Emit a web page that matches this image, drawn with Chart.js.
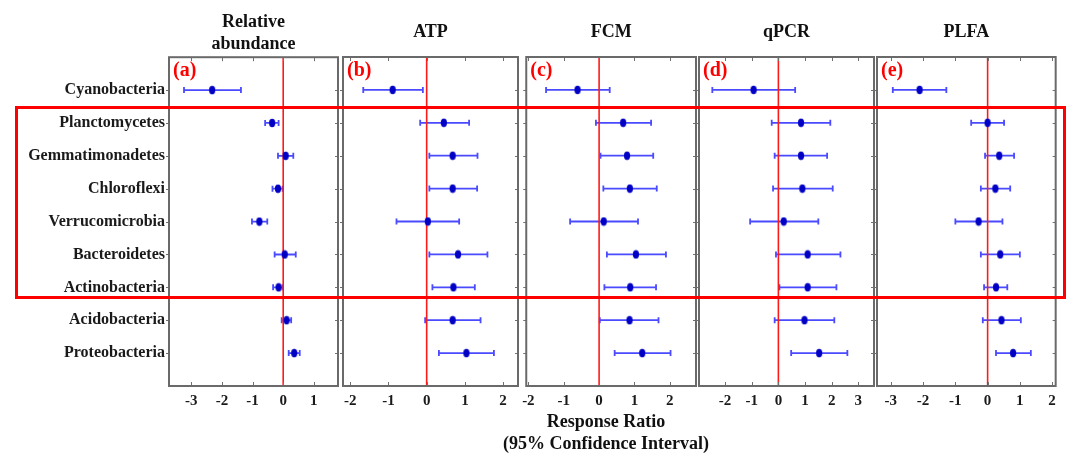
<!DOCTYPE html>
<html>
<head>
<meta charset="utf-8">
<script src="https://cdn.jsdelivr.net/npm/chart.js@4.4.1/dist/chart.umd.min.js"></script>
<style>
  body { margin: 0; background: #fff; width: 1072px; height: 453px; position: relative; overflow: hidden; }
  .panel { position: absolute; top: 0; height: 420px; }
  #box { position: absolute; left: 15px; top: 106px; width: 1051px; height: 193px;
         border: 3px solid #ff0000; box-sizing: border-box; pointer-events: none; }
  #xtitle { position: absolute; left: 406px; width: 400px; top: 410px; text-align: center;
            font: bold 18px "Liberation Serif", serif; line-height: 22px; color: #111; }
</style>
</head>
<body>
<div class="panel" id="wa" style="left:0px;width:344px"><canvas id="ca"></canvas></div>
<div class="panel" id="wb" style="left:337px;width:187px"><canvas id="cb"></canvas></div>
<div class="panel" id="wc" style="left:516px;width:186px"><canvas id="cc"></canvas></div>
<div class="panel" id="wd" style="left:693px;width:187px"><canvas id="cd"></canvas></div>
<div class="panel" id="we" style="left:871px;width:191px"><canvas id="ce"></canvas></div>
<div id="box"></div>
<div id="xtitle">Response Ratio<br>(95% Confidence Interval)</div>
<script>
// ---------------- Data ----------------
const categories = ["Cyanobacteria", "Planctomycetes", "Gemmatimonadetes", "Chloroflexi",
  "Verrucomicrobia", "Bacteroidetes", "Actinobacteria", "Acidobacteria", "Proteobacteria"];

const relMean = [-2.32, -0.36, 0.08, -0.17, -0.78, 0.05, -0.15, 0.11, 0.36];
const relLow  = [-3.24, -0.59, -0.17, -0.35, -1.02, -0.28, -0.33, -0.05, 0.18];
const relHigh = [-1.38, -0.15, 0.33, -0.02, -0.52, 0.41, -0.02, 0.26, 0.54];

const atpMean = [-0.89, 0.45, 0.68, 0.68, 0.03, 0.82, 0.70, 0.68, 1.04];
const atpLow  = [-1.66, -0.17, 0.07, 0.07, -0.79, 0.07, 0.15, -0.04, 0.32];
const atpHigh = [-0.10, 1.11, 1.33, 1.32, 0.85, 1.59, 1.26, 1.41, 1.76];

const fcmMean = [-0.61, 0.68, 0.79, 0.87, 0.13, 1.04, 0.88, 0.86, 1.22];
const fcmLow  = [-1.50, -0.09, 0.04, 0.12, -0.82, 0.22, 0.15, 0.02, 0.44];
const fcmHigh = [0.30, 1.47, 1.53, 1.63, 1.10, 1.89, 1.61, 1.68, 2.02];

const qpcrMean = [-0.93, 0.85, 0.85, 0.90, 0.20, 1.10, 1.10, 0.98, 1.53];
const qpcrLow  = [-2.48, -0.25, -0.14, -0.20, -1.06, -0.09, 0.04, -0.14, 0.48];
const qpcrHigh = [0.63, 1.95, 1.83, 2.04, 1.50, 2.33, 2.18, 2.10, 2.59];

const plfaMean = [-2.11, 0.00, 0.36, 0.24, -0.28, 0.39, 0.26, 0.43, 0.79];
const plfaLow  = [-2.94, -0.51, -0.08, -0.21, -1.00, -0.21, -0.11, -0.15, 0.26];
const plfaHigh = [-1.28, 0.51, 0.82, 0.70, 0.46, 1.00, 0.61, 1.03, 1.34];

const ticksA = [-3, -2, -1, 0, 1];
const ticksB = [-2, -1, 0, 1, 2];
const ticksC = [-2, -1, 0, 1, 2];
const ticksD = [-2, -1, 0, 1, 2, 3];
const ticksE = [-3, -2, -1, 0, 1, 2];

// ---------------- Helpers ----------------
const SERIF = '"Liberation Serif", "Times New Roman", serif';

// small upright ellipse used as the point marker
function makeDot() {
  const c = document.createElement("canvas");
  c.width = 8; c.height = 10;
  const g = c.getContext("2d");
  g.fillStyle = "#0000c4";
  g.beginPath();
  g.ellipse(4, 5, 3.1, 4.2, 0, 0, Math.PI * 2);
  g.fill();
  return c;
}
const dot = makeDot();

const errorBars = {
  id: "errorBars",
  beforeDatasetsDraw(chart) {
    const p = chart.options.plugins.errorBars;
    const xs = chart.scales.x, ys = chart.scales.y;
    const ctx = chart.ctx;
    ctx.save();
    ctx.strokeStyle = "#4a4aff";
    ctx.lineWidth = 1.8;
    p.low.forEach((lo, i) => {
      const y = ys.getPixelForValue(i + 1);
      const x1 = xs.getPixelForValue(lo), x2 = xs.getPixelForValue(p.high[i]);
      ctx.beginPath();
      ctx.moveTo(x1, y); ctx.lineTo(x2, y);
      ctx.moveTo(x1, y - 3); ctx.lineTo(x1, y + 3);
      ctx.moveTo(x2, y - 3); ctx.lineTo(x2, y + 3);
      ctx.stroke();
    });
    ctx.restore();
  }
};

const frame = {
  id: "frame",
  afterDatasetsDraw(chart) {
    const p = chart.options.plugins.frame;
    const a = chart.chartArea, ctx = chart.ctx;
    const xs = chart.scales.x, ys = chart.scales.y;
    ctx.save();
    ctx.strokeStyle = "#707070";
    ctx.lineWidth = 1;
    ctx.beginPath();
    p.ticks.forEach(v => {
      const x = Math.round(xs.getPixelForValue(v)) + 0.5;
      ctx.moveTo(x, a.bottom); ctx.lineTo(x, a.bottom - 4);
      ctx.moveTo(x, a.top); ctx.lineTo(x, a.top + 4);
    });
    categories.forEach((c, i) => {
      const y = Math.round(ys.getPixelForValue(i + 1)) + 0.5;
      ctx.moveTo(a.left - 3, y); ctx.lineTo(a.left, y);
      ctx.moveTo(a.right, y); ctx.lineTo(a.right - 3, y);
    });
    ctx.stroke();
    ctx.strokeStyle = "#6a6a6a";
    ctx.lineWidth = 2;
    ctx.strokeRect(a.left, a.top, a.right - a.left, a.bottom - a.top);
    ctx.fillStyle = "#ff0000";
    ctx.font = "bold 20px " + SERIF;
    ctx.textBaseline = "middle";
    ctx.textAlign = "left";
    ctx.fillText(p.tag, a.left + 4, a.top + 14);
    ctx.restore();
  }
};

// ---------------- Panels ----------------
function makePanel(id, opt) {
  const wrap = document.getElementById("w" + id);
  const canvas = document.getElementById("c" + id);
  canvas.style.width = wrap.style.width;
  canvas.style.height = "420px";
  const titleLines = Array.isArray(opt.title) ? opt.title.length : 1;

  return new Chart(canvas, {
    type: "scatter",
    data: {
      datasets: [
        {
          data: opt.mean.map((v, i) => ({ x: v, y: i + 1 })),
          pointStyle: dot,
          pointRadius: 4,
          order: 0
        },
        {
          data: [{ x: 0, y: 0 }, { x: 0, y: 10 }],
          showLine: true,
          borderColor: "#ff1a1a",
          borderWidth: 1.6,
          pointRadius: 0,
          order: 2
        }
      ]
    },
    options: {
      responsive: false,
      animation: false,
      events: [],
      layout: {
        padding: {
          top: titleLines > 1 ? 12 : 22,
          left: opt.first ? 0 : 6,
          right: 6,
          bottom: 0
        }
      },
      scales: {
        x: {
          type: "linear",
          min: opt.min,
          max: opt.max,
          afterBuildTicks: s => { s.ticks = opt.ticks.map(v => ({ value: v })); },
          afterFit: s => { s.height = 34; },
          grid: { display: false, drawTicks: false },
          border: { display: false },
          ticks: {
            padding: 6,
            color: "#1a1a1a",
            font: { family: SERIF, size: 15, weight: "bold" },
            maxRotation: 0
          }
        },
        y: {
          type: "linear",
          min: 0,
          max: 10,
          reverse: true,
          display: !!opt.first,
          afterBuildTicks: s => { s.ticks = categories.map((c, i) => ({ value: i + 1 })); },
          afterFit: s => { s.width = opt.first ? 169 : 0; },
          grid: { display: false, drawTicks: false },
          border: { display: false },
          ticks: {
            padding: 4,
            color: "#1a1a1a",
            font: { family: SERIF, size: 16, weight: "bold" },
            callback: v => categories[v - 1]
          }
        }
      },
      plugins: {
        legend: { display: false },
        tooltip: { enabled: false },
        title: {
          display: true,
          text: opt.title,
          fullSize: false,
          color: "#111",
          font: { family: SERIF, size: 18, weight: "bold", lineHeight: 1.2 },
          padding: { top: 0, bottom: titleLines > 1 ? 2 : 13.4 }
        },
        errorBars: { low: opt.low, high: opt.high },
        frame: { ticks: opt.ticks, tag: opt.tag }
      }
    },
    plugins: [errorBars, frame]
  });
}

makePanel("a", { title: ["Relative", "abundance"], tag: "(a)", first: true,
  mean: relMean, low: relLow, high: relHigh, min: -3.73, max: 1.79, ticks: ticksA });
makePanel("b", { title: "ATP", tag: "(b)",
  mean: atpMean, low: atpLow, high: atpHigh, min: -2.19, max: 2.39, ticks: ticksB });
makePanel("c", { title: "FCM", tag: "(c)",
  mean: fcmMean, low: fcmLow, high: fcmHigh, min: -2.06, max: 2.74, ticks: ticksC });
makePanel("d", { title: "qPCR", tag: "(d)",
  mean: qpcrMean, low: qpcrLow, high: qpcrHigh, min: -2.98, max: 3.59, ticks: ticksD });
makePanel("e", { title: "PLFA", tag: "(e)",
  mean: plfaMean, low: plfaLow, high: plfaHigh, min: -3.43, max: 2.11, ticks: ticksE });
</script>
</body>
</html>
